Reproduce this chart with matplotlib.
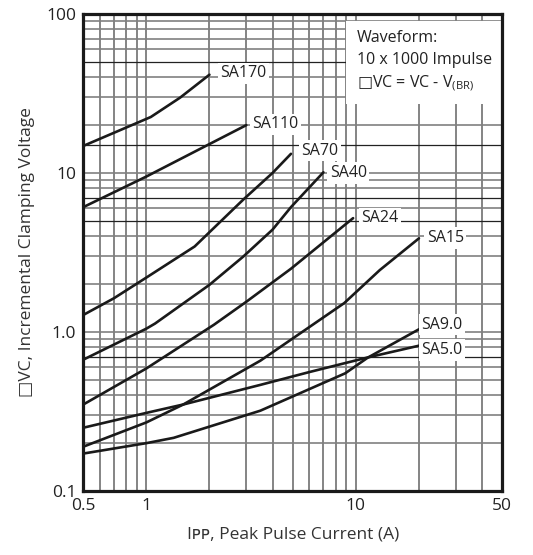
import matplotlib
matplotlib.use("Agg")
import matplotlib.pyplot as plt

plt.rcParams['font.family'] = ['Open Sans', 'DejaVu Sans']

# ── DATA ─────────────────────────────────────────────────────────────────────
sa170_x = [0.5, 1.05, 1.45, 2.0]
sa170_y = [14.8, 22.5, 29.8, 41.5]

sa110_x = [0.5, 1.0, 2.0, 3.0]
sa110_y = [6.1, 9.5, 15.2, 20.0]

sa70_x = [0.5, 0.7, 1.0, 1.7, 2.9, 4.0, 4.9]
sa70_y = [1.28, 1.63, 2.2, 3.45, 6.8, 10.0, 13.2]

sa40_x = [0.5, 1.0, 1.1, 2.0, 2.9, 4.0, 4.9, 7.0]
sa40_y = [0.67, 1.05, 1.13, 1.98, 2.98, 4.4, 6.1, 10.1]

sa24_x = [0.5, 1.0, 2.1, 3.0, 4.9, 9.7]
sa24_y = [0.35, 0.59, 1.11, 1.55, 2.5, 5.2]

sa15_x = [0.5, 1.0, 1.5, 3.5, 8.8, 13.0, 20.0]
sa15_y = [0.19, 0.27, 0.35, 0.66, 1.52, 2.45, 3.88]

sa9_x = [0.5, 1.0, 1.35, 3.5, 8.9, 11.4, 20.0]
sa9_y = [0.172, 0.20, 0.216, 0.32, 0.55, 0.69, 1.04]

sa5_x = [0.5, 1.0, 1.5, 3.5, 6.0, 11.3, 20.0]
sa5_y = [0.25, 0.31, 0.35, 0.465, 0.56, 0.69, 0.82]

series = [
    ("SA170", sa170_x, sa170_y, (2.25, 42.5)),
    ("SA110", sa110_x, sa110_y, (3.2, 20.3)),
    ("SA70",  sa70_x,  sa70_y,  (5.5, 13.8)),
    ("SA40",  sa40_x,  sa40_y,  (7.5, 10.0)),
    ("SA24",  sa24_x,  sa24_y,  (10.6, 5.2)),
    ("SA15",  sa15_x,  sa15_y,  (21.8, 3.9)),
    ("SA9.0", sa9_x,   sa9_y,   (20.6, 1.11)),
    ("SA5.0", sa5_x,   sa5_y,   (20.6, 0.77)),
]

x_ticks = [0.5, 1, 10, 50]
x_ticklabels = ["0.5", "1", "10", "50"]
y_ticks = [0.1, 1, 10, 100]
y_ticklabels = ["0.1", "1.0", "10", "100"]

x_grid = [0.6, 0.7, 0.8, 0.9, 1, 2, 3, 4, 5, 6, 7, 8, 9, 10, 20, 30, 40]
y_grid = [0.2, 0.3, 0.4, 0.5, 0.6, 0.8, 0.9, 1, 1.5, 2, 3, 4, 6, 8, 9,
          10, 20, 30, 40, 60, 70, 80, 90]
y_grid_dark = [0.7, 5, 7, 15, 50]

# ── PLOT ─────────────────────────────────────────────────────────────────────
fig = plt.figure(figsize=(5.33, 5.55), dpi=100)
ax = fig.add_axes([0.1563, 0.1153, 0.7861, 0.8595])
ax.set_xscale("log")
ax.set_yscale("log")
ax.set_xlim(0.5, 50)
ax.set_ylim(0.1, 100)

for gx in x_grid:
    ax.axvline(gx, color="#707070", lw=1.2, zorder=1)
for gy in y_grid:
    ax.axhline(gy, color="#808080", lw=1.2, zorder=1)
for gy in y_grid_dark:
    ax.axhline(gy, color="#222222", lw=0.9, zorder=1)

for name, xs, ys, (lx, ly) in series:
    ax.plot(xs, ys, color="#1a1a1a", lw=1.9, zorder=3, solid_capstyle="round")
    ax.text(lx, ly, name, fontsize=11.5, ha="left", va="center", color="#222222",
            zorder=4, bbox=dict(facecolor="white", edgecolor="none", pad=1.8))

# waveform note box
ax.text(0.653, 0.966, "Waveform:\n10 x 1000 Impulse\n"
        "$\\mathrm{\u25a1}$VC = VC - V$_{\\mathregular{(BR)}}$",
        transform=ax.transAxes, fontsize=11.5, ha="left", va="top",
        color="#222222", linespacing=1.45, zorder=5,
        bbox=dict(facecolor="white", edgecolor="none", pad=8))

ax.set_xticks(x_ticks)
ax.set_xticklabels(x_ticklabels)
ax.set_yticks(y_ticks)
ax.set_yticklabels(y_ticklabels)
ax.minorticks_off()
ax.tick_params(length=0, labelsize=12.5, pad=5, colors="#222222")

for sp in ax.spines.values():
    sp.set_linewidth(2.3)
    sp.set_color("#1a1a1a")
    sp.set_zorder(6)

ax.set_xlabel("I\u1d18\u1d18, Peak Pulse Current (A)", fontsize=12.5,
              color="#333333", labelpad=9)
ax.set_ylabel("\u25a1VC, Incremental Clamping Voltage", fontsize=12.5,
              color="#333333", labelpad=8)

fig.savefig("out.png", dpi=100)
